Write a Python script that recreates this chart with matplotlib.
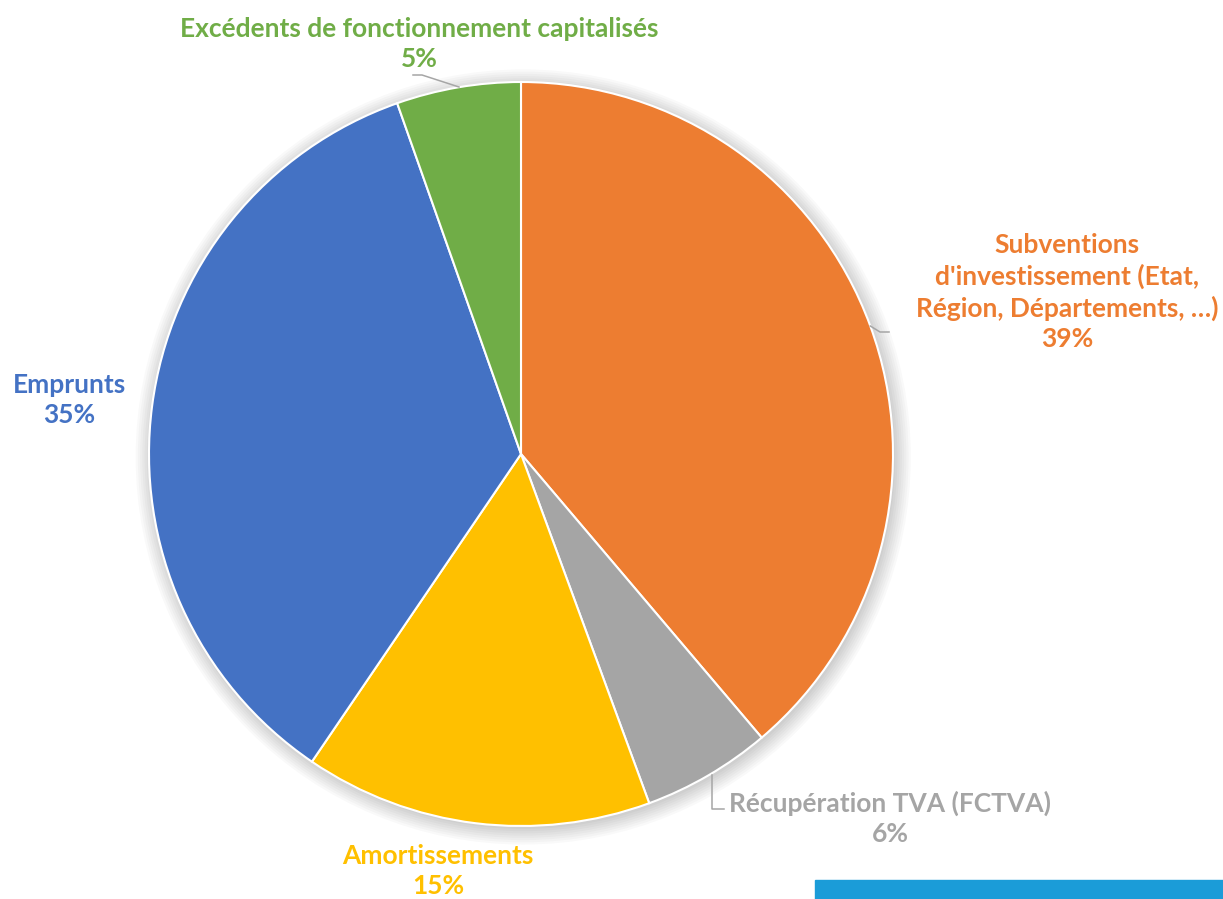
import numpy as np
import matplotlib.pyplot as plt
from matplotlib.patches import Circle, Rectangle

# Données (lecture du graphique, en %)
categories = [
    "Subventions\nd'investissement (Etat,\nRégion, Départements, …)",
    "Récupération TVA (FCTVA)",
    "Amortissements",
    "Emprunts",
    "Excédents de fonctionnement capitalisés",
]
values = [38.8, 5.6, 15.1, 35.1, 5.4]
colors = ["#ED7D31", "#A5A5A5", "#FFC000", "#4472C4", "#70AD47"]

W, H = 1223, 899
CX, CY, R = 521, 454, 372  # centre et rayon du camembert en pixels


def px(x, y):
    # pixels de l'image -> coordonnées données (rayon = 1)
    return (x - CX) / R, (CY - y) / R


fig = plt.figure(figsize=(W / 100, H / 100), dpi=100)
ax = fig.add_axes([0, 0, 1, 1])

# ombre douce
for k in range(8):
    ax.add_patch(Circle((0.006, -0.008), 1 + k * 0.006, color="black",
                        alpha=0.025, lw=0, zorder=0))

wedges, _ = ax.pie(values, colors=colors, startangle=90, counterclock=False,
                   radius=1, wedgeprops=dict(edgecolor="white", linewidth=1.5))
for w in wedges:
    w.set_zorder(2)

ax.set_aspect('auto')
ax.set_xlim(-CX / R, (W - CX) / R)
ax.set_ylim(-(H - CY) / R, CY / R)
ax.axis('off')

font = dict(family=["Lato", "DejaVu Sans"], weight="bold", fontsize=19)

# positions des étiquettes (centre du bloc de texte, pixels)
label_pos = [(1067, 292), (890, 818), (438, 871), (69, 400), (419, 44)]
for lab, v, c, (x, y) in zip(categories, values, colors, label_pos):
    tx, ty = px(x, y)
    ax.text(tx, ty, f"{lab}\n{v:.0f}%", color=c, ha="center", va="center",
            linespacing=1.3, zorder=5, **font)

# lignes de rappel
lc = dict(color="#A6A6A6", lw=1.1, zorder=4)
# Subventions : part du bord du camembert
_, y0 = px(0, 326)
x0 = np.sqrt(1 - y0 ** 2)
x1, y1 = px(880, 332)
x2, _ = px(889, 332)
ax.plot([x0, x1, x2], [y0, y1, y1], **lc)
# Récupération TVA
xs, ys = px(712, 775)
xe, ye = px(724, 809)
ax.plot([xs, xs, xe], [ys, ye, ye], **lc)
# Excédents
p1 = px(413, 75)
p2 = px(422, 75)
p3 = px(459, 87)
ax.plot([p1[0], p2[0], p3[0]], [p1[1], p2[1], p3[1]], **lc)

# bandeau bleu en bas à droite
fig.patches.append(Rectangle((815 / W, 0), 1 - 815 / W, 19 / H,
                             transform=fig.transFigure, color="#1B9CD8",
                             zorder=10))

fig.savefig("out.png", dpi=100)
